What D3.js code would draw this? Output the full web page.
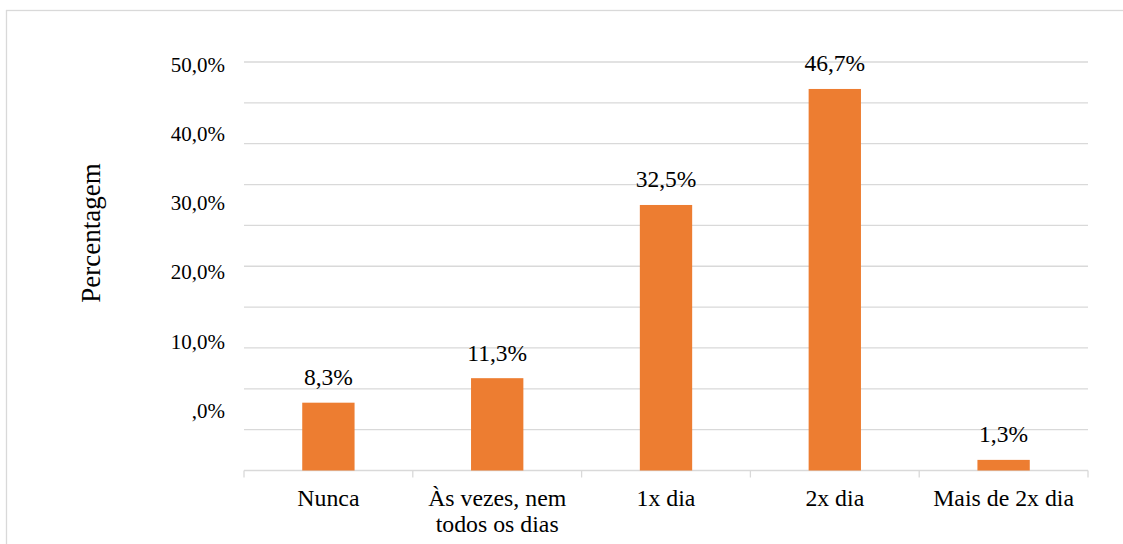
<!DOCTYPE html>
<html>
<head>
<meta charset="utf-8">
<script src="https://cdn.jsdelivr.net/npm/d3@7"></script>
<style>
  html, body { margin: 0; padding: 0; background: #fff; }
  svg { display: block; }
</style>
</head>
<body>
<svg id="chart" width="1123" height="544"></svg>
<script>
const categories = [["Nunca"], ["Às vezes, nem", "todos os dias"], ["1x dia"], ["2x dia"], ["Mais de 2x dia"]];
const values = [8.3, 11.3, 32.5, 46.7, 1.3];
const valueLabels = ["8,3%", "11,3%", "32,5%", "46,7%", "1,3%"];
const gridValues = [0, 5, 10, 15, 20, 25, 30, 35, 40, 45, 50];
const tickValues = [50, 40, 30, 20, 10, 0];
const tickLabels = ["50,0%", "40,0%", "30,0%", "20,0%", "10,0%", ",0%"];
const yTitle = "Percentagem";

const FONT = "'Liberation Serif', 'Times New Roman', Times, serif";
const svg = d3.select("#chart");
const W = 1123, H = 544;
const plotLeft = 244, plotRight = 1088, plotTop = 62, plotBottom = 470.5;
const grey = "#d9d9d9";

// outer chart border (extends beyond the photographed area on right/bottom)
svg.append("rect").attr("x", 6.5).attr("y", 10.5).attr("width", W + 10).attr("height", H + 10)
  .attr("fill", "none").attr("stroke", grey).attr("stroke-width", 1.3);

const x = d3.scaleBand().domain(d3.range(categories.length)).range([plotLeft, plotRight]).padding(0);
const y = d3.scaleLinear().domain([0, 50]).range([plotBottom, plotTop]);
// the tick labels of the original sit on their own (misaligned) spacing
const yLabel = d3.scaleLinear().domain([0, 50]).range([418, 71.5]);

// gridlines
svg.append("g").selectAll("line").data(gridValues.filter(d => d > 0)).join("line")
  .attr("x1", plotLeft).attr("x2", plotRight)
  .attr("y1", d => y(d)).attr("y2", d => y(d))
  .attr("stroke", grey).attr("stroke-width", 1.3);

// x axis
const xAxisG = svg.append("g").attr("transform", `translate(0,${plotBottom})`);
xAxisG.append("line").attr("x1", plotLeft).attr("x2", plotRight).attr("stroke", grey).attr("stroke-width", 1.3);
const tickPos = d3.range(categories.length + 1).map(i => i < categories.length ? x(i) : x(categories.length - 1) + x.bandwidth());
xAxisG.selectAll("line.tk").data(tickPos).join("line").attr("class", "tk")
  .attr("x1", d => d).attr("x2", d => d).attr("y1", 0).attr("y2", 7)
  .attr("stroke", grey).attr("stroke-width", 1.3);

// bars
const barW = x.bandwidth() * 0.31;
svg.append("g").selectAll("rect").data(values).join("rect")
  .attr("x", (d, i) => x(i) + x.bandwidth() / 2 - barW / 2)
  .attr("y", d => y(d))
  .attr("width", barW)
  .attr("height", d => y(0) - y(d))
  .attr("fill", "#ED7D31");

// value labels
svg.append("g").selectAll("text").data(values).join("text")
  .attr("x", (d, i) => x(i) + x.bandwidth() / 2)
  .attr("y", d => y(d) - 17.5)
  .attr("text-anchor", "middle")
  .attr("font-family", FONT)
  .attr("font-size", 23.5)
  .attr("fill", "#000")
  .text((d, i) => valueLabels[i]);

// category labels
const catG = svg.append("g");
categories.forEach((lines, i) => {
  lines.forEach((ln, j) => {
    catG.append("text")
      .attr("x", x(i) + x.bandwidth() / 2)
      .attr("y", 505.5 + j * 26.5)
      .attr("text-anchor", "middle")
      .attr("font-family", FONT)
      .attr("font-size", 23.8)
      .attr("fill", "#000")
      .text(ln);
  });
});

// y tick labels
svg.append("g").selectAll("text").data(tickValues).join("text")
  .attr("x", 225)
  .attr("y", d => yLabel(d))
  .attr("text-anchor", "end")
  .attr("font-family", FONT)
  .attr("font-size", 21)
  .attr("fill", "#000")
  .text((d, i) => tickLabels[i]);

// y title
svg.append("text")
  .attr("transform", "translate(100,233) rotate(-90)")
  .attr("text-anchor", "middle")
  .attr("font-family", FONT)
  .attr("font-size", 27)
  .attr("fill", "#000")
  .text(yTitle);
</script>
</body>
</html>
